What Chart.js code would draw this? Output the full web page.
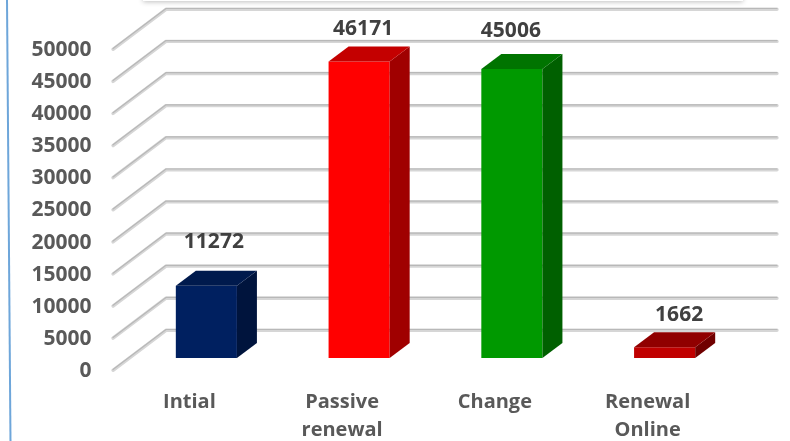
<!DOCTYPE html>
<html>
<head>
<meta charset="utf-8">
<title>Chart</title>
<script src="https://cdn.jsdelivr.net/npm/chart.js@4"></script>
<style>
    body { margin: 0; background: #fff; }
    #grafico { display: block; }
</style>
</head>
<body>
<canvas id="grafico" width="790" height="441"></canvas>
<script>
const categorias = [["Intial"], ["Passive", "renewal"], ["Change"], ["Renewal", "Online"]];
const valores = [11272, 46171, 45006, 1662];
const coloresFrente = ["#002060", "#ff0000", "#009900", "#c00000"];
const coloresLado = ["#00143d", "#a00000", "#006000", "#700000"];
const coloresTecho = ["#001a4d", "#c40000", "#007400", "#900000"];
const desplazoEtiquetas = [[7.5, -44], [4, -33], [-1, -38], [14.5, -32]];

const fuente = "'Open Sans', sans-serif";
const prof = { x: 20, y: -15 };

// paredes 3D y marco, se dibujan antes de las barras
const fondo = {
    id: "fondo",
    beforeDatasetsDraw(chart) {
        const ctx = chart.ctx;
        const y = chart.scales.y;
        const a = chart.chartArea;

        ctx.save();
        ctx.strokeStyle = "#6ea6da";
        ctx.lineWidth = 2;
        ctx.beginPath();
        ctx.moveTo(7, 0);
        ctx.lineTo(10.5, 441);
        ctx.stroke();

        ctx.shadowColor = "rgba(0,0,0,0.25)";
        ctx.shadowBlur = 5;
        ctx.shadowOffsetY = 1;
        ctx.fillStyle = "#fff";
        ctx.fillRect(143, -10, 600, 11);
        ctx.restore();

        ctx.save();
        ctx.lineJoin = "round";
        ctx.lineCap = "round";
        y.ticks.forEach(t => {
            const p = y.getPixelForValue(t.value);
            const dibuja = (dy) => {
                ctx.beginPath();
                ctx.moveTo(a.left - 17, p + 12 + dy);
                ctx.lineTo(a.left + 36, p - 28 + dy);
                ctx.lineTo(a.right + 36, p - 28 + dy);
                ctx.stroke();
            };
            ctx.strokeStyle = "#d6d6d6";
            ctx.lineWidth = 3.4;
            dibuja(0.3);
            ctx.strokeStyle = "#b8b8b8";
            ctx.lineWidth = 1.2;
            dibuja(-0.5);
        });
        ctx.restore();
    },
    afterDatasetsDraw(chart) {
        const ctx = chart.ctx;
        chart.getDatasetMeta(0).data.forEach((bar, i) => {
            const izq = bar.x - bar.width / 2;
            const der = bar.x + bar.width / 2;

            ctx.fillStyle = coloresLado[i];
            ctx.beginPath();
            ctx.moveTo(der, bar.y);
            ctx.lineTo(der + prof.x, bar.y + prof.y);
            ctx.lineTo(der + prof.x, bar.base + prof.y);
            ctx.lineTo(der, bar.base);
            ctx.closePath();
            ctx.fill();

            ctx.fillStyle = coloresTecho[i];
            ctx.beginPath();
            ctx.moveTo(izq, bar.y);
            ctx.lineTo(izq + prof.x, bar.y + prof.y);
            ctx.lineTo(der + prof.x, bar.y + prof.y);
            ctx.lineTo(der, bar.y);
            ctx.closePath();
            ctx.fill();

            ctx.fillStyle = "#404040";
            ctx.font = "bold 21px " + fuente;
            ctx.textAlign = "center";
            ctx.textBaseline = "middle";
            ctx.fillText(valores[i], bar.x + desplazoEtiquetas[i][0], bar.y + desplazoEtiquetas[i][1]);
        });
    }
};

new Chart(document.getElementById("grafico"), {
    type: "bar",
    data: {
        labels: categorias,
        datasets: [{
            data: valores,
            backgroundColor: coloresFrente,
            categoryPercentage: 1,
            barPercentage: 0.4
        }]
    },
    options: {
        responsive: false,
        animation: false,
        layout: { padding: { top: 37, right: 49, bottom: 0, left: 0 } },
        plugins: { legend: { display: false }, tooltip: { enabled: false } },
        scales: {
            x: {
                grid: { display: false, drawTicks: false },
                border: { display: false },
                afterFit(scale) {
                    scale.height = 83;
                    scale.paddingLeft = 0;
                    scale.paddingRight = 0;
                },
                ticks: {
                    color: "#595959",
                    font: { family: fuente, size: 20, weight: "bold", lineHeight: 1.42 },
                    padding: 30,
                    labelOffset: -17,
                    maxRotation: 0,
                    autoSkip: false
                }
            },
            y: {
                min: 0,
                max: 50000,
                grid: { display: false, drawTicks: false },
                border: { display: false },
                afterFit(scale) {
                    scale.width = 130;
                    scale.paddingTop = 0;
                    scale.paddingBottom = 0;
                },
                ticks: {
                    stepSize: 5000,
                    color: "#595959",
                    font: { family: fuente, size: 21, weight: "bold" },
                    padding: 38.5,
                    labelOffset: 13,
                    callback: v => String(v)
                }
            }
        }
    },
    plugins: [fondo]
});
</script>
</body>
</html>
